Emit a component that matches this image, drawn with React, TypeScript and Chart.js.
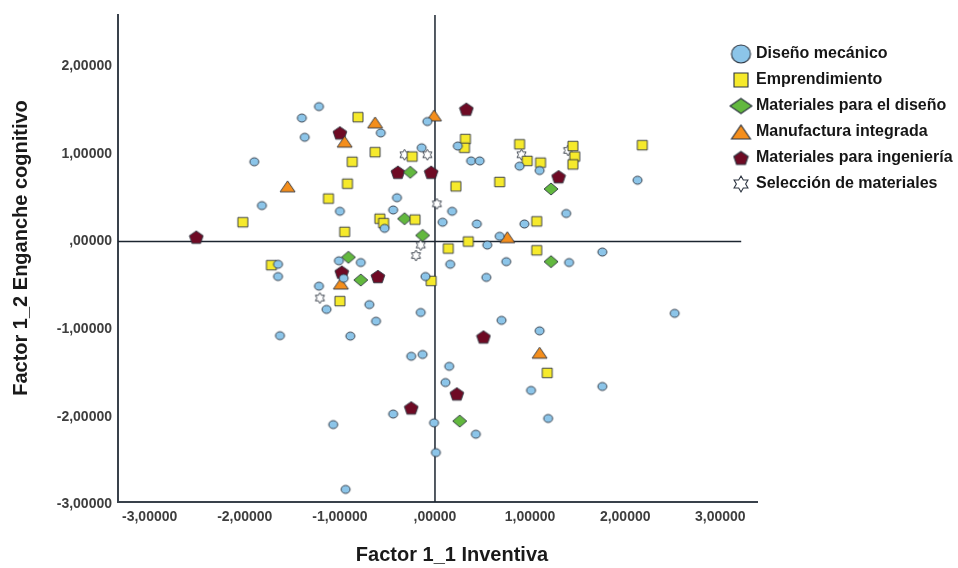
import React, { useEffect, useRef } from 'react';
import { Chart, registerables } from 'chart.js';

Chart.register(...registerables);

// ---------- data ----------
const seriesNames = [
  'Diseño mecánico',
  'Emprendimiento',
  'Materiales para el diseño',
  'Manufactura integrada',
  'Materiales para ingeniería',
  'Selección de materiales',
];

const disenoMecanico: number[][] = [
  [-1.22, 1.54], [-1.40, 1.41], [-0.08, 1.37], [-1.37, 1.19], [-0.57, 1.24], [-0.14, 1.07],
  [-1.90, 0.91], [-0.40, 0.50], [-1.82, 0.41], [-1.00, 0.345], [-0.44, 0.36], [-0.53, 0.15],
  [0.08, 0.22], [0.24, 1.09], [0.38, 0.92], [0.47, 0.92], [0.89, 0.86], [1.10, 0.81],
  [2.13, 0.70], [0.18, 0.345], [0.44, 0.20], [0.94, 0.20], [1.38, 0.32], [0.68, 0.06],
  [0.55, -0.04], [1.76, -0.12], [0.16, -0.26], [0.75, -0.23], [1.41, -0.24], [0.54, -0.41],
  [2.52, -0.82], [0.70, -0.90], [1.10, -1.02], [0.15, -1.425], [0.11, -1.61], [1.01, -1.70],
  [1.76, -1.655], [-0.01, -2.07], [1.19, -2.02], [0.43, -2.20], [0.01, -2.41], [-1.65, -0.26],
  [-1.65, -0.40], [-1.01, -0.22], [-0.78, -0.24], [-0.96, -0.42], [-1.22, -0.51], [-1.14, -0.775],
  [-0.69, -0.72], [-0.62, -0.91], [-0.10, -0.40], [-0.15, -0.81], [-1.63, -1.075], [-0.89, -1.08],
  [-0.25, -1.31], [-0.13, -1.29], [-0.44, -1.97], [-1.07, -2.09], [-0.94, -2.83],
];

const emprendimiento: number[][] = [
  [-0.81, 1.42], [-0.63, 1.02], [-0.24, 0.97], [-0.87, 0.91], [-0.92, 0.66], [-1.12, 0.49],
  [-0.58, 0.26], [-0.54, 0.21], [-0.21, 0.25], [-2.02, 0.22], [-0.95, 0.11], [0.32, 1.17],
  [0.31, 1.07], [0.89, 1.11], [0.97, 0.92], [1.11, 0.90], [1.45, 1.09], [1.47, 0.97],
  [1.45, 0.88], [2.18, 1.10], [0.22, 0.63], [0.68, 0.68], [1.07, 0.23], [0.35, 0.00],
  [0.14, -0.08], [1.07, -0.10], [-0.04, -0.45], [1.18, -1.50], [-1.72, -0.27], [-1.00, -0.68],
];

const materialesDiseno: number[][] = [
  [-0.26, 0.79], [-0.32, 0.26], [-0.13, 0.07], [1.22, 0.60], [1.22, -0.23], [0.26, -2.05],
  [-0.91, -0.18], [-0.78, -0.44],
];

const manufacturaIntegrada: number[][] = [
  [-0.63, 1.36], [-0.01, 1.44], [-0.95, 1.14], [-1.55, 0.63], [0.76, 0.05], [1.10, -1.27],
  [-0.99, -0.48],
];

const materialesIngenieria: number[][] = [
  [-1.00, 1.24], [-0.39, 0.79], [-0.04, 0.79], [-2.51, 0.05], [0.33, 1.51], [1.30, 0.74],
  [-0.98, -0.35], [-0.60, -0.40], [0.51, -1.09], [0.23, -1.74], [-0.25, -1.90],
];

const seleccionMateriales: number[][] = [
  [-0.32, 0.99], [-0.08, 0.99], [0.02, 0.43], [-0.15, -0.04], [0.91, 0.99], [1.40, 1.04],
  [-0.20, -0.16], [-1.21, -0.645],
];

const seriesData = [
  disenoMecanico, emprendimiento, materialesDiseno,
  manufacturaIntegrada, materialesIngenieria, seleccionMateriales,
];

const xTickValues = [-3, -2, -1, 0, 1, 2, 3];
const xTickLabels = ['-3,00000', '-2,00000', '-1,00000', ',00000', '1,00000', '2,00000', '3,00000'];
const yTickValues = [-3, -2, -1, 0, 1, 2];
const yTickLabels = ['-3,00000', '-2,00000', '-1,00000', ',00000', '1,00000', '2,00000'];

const xTitle = 'Factor 1_1 Inventiva';
const yTitle = 'Factor 1_2 Enganche cognitivo';

// ---------- styles ----------
const FONT = '"Liberation Sans", Arial, Helvetica, sans-serif';
const OUTLINE = '#2c3440';
const markerDefs = [
  { shape: 'circle', fill: '#8cc5e9', w: 9, h: 8, lw: 0.9, lgW: 19, lgH: 18 },
  { shape: 'square', fill: '#f6ea2c', w: 10, h: 9.5, lw: 0.9, lgW: 14, lgH: 14 },
  { shape: 'diamond', fill: '#62b83e', w: 14, h: 12, lw: 0.9, lgW: 22, lgH: 15 },
  { shape: 'triangle', fill: '#f48e1c', w: 15, h: 11, lw: 0.9, lgW: 19, lgH: 14 },
  { shape: 'pentagon', fill: '#6e0a24', w: 12, h: 12.5, lw: 0.9, lgW: 13, lgH: 13 },
  { shape: 'star', fill: '#ffffff', w: 10.5, h: 11, lw: 0.9, lgW: 16, lgH: 16 },
];

function makeMarker(shape: string, w: number, h: number, fill: string, lw: number): HTMLCanvasElement {
  const pad = 2;
  const c = document.createElement('canvas');
  c.width = Math.ceil(w + pad * 2);
  c.height = Math.ceil(h + pad * 2);
  const ctx = c.getContext('2d') as CanvasRenderingContext2D;
  const cx = c.width / 2;
  const cy = c.height / 2;
  ctx.beginPath();
  if (shape === 'circle') {
    ctx.ellipse(cx, cy, w / 2, h / 2, 0, 0, Math.PI * 2);
  } else if (shape === 'square') {
    ctx.rect(cx - w / 2, cy - h / 2, w, h);
  } else if (shape === 'diamond') {
    ctx.moveTo(cx, cy - h / 2);
    ctx.lineTo(cx + w / 2, cy);
    ctx.lineTo(cx, cy + h / 2);
    ctx.lineTo(cx - w / 2, cy);
    ctx.closePath();
  } else if (shape === 'triangle') {
    ctx.moveTo(cx, cy - h / 2);
    ctx.lineTo(cx + w / 2, cy + h / 2);
    ctx.lineTo(cx - w / 2, cy + h / 2);
    ctx.closePath();
  } else if (shape === 'pentagon') {
    const r = h / 1.809;
    const oy = cy - h / 2 + r;
    for (let i = 0; i < 5; i++) {
      const a = -Math.PI / 2 + (i * 2 * Math.PI) / 5;
      const px = cx + r * 1.05 * Math.cos(a);
      const py = oy + r * Math.sin(a);
      if (i === 0) ctx.moveTo(px, py); else ctx.lineTo(px, py);
    }
    ctx.closePath();
  } else if (shape === 'star') {
    const R = h / 2;
    const rIn = R * 0.58;
    for (let i = 0; i < 12; i++) {
      const a = -Math.PI / 2 + (i * Math.PI) / 6;
      const rr = i % 2 === 0 ? R : rIn;
      const px = cx + rr * Math.cos(a) * (w / h);
      const py = cy + rr * Math.sin(a);
      if (i === 0) ctx.moveTo(px, py); else ctx.lineTo(px, py);
    }
    ctx.closePath();
  }
  ctx.fillStyle = fill;
  ctx.fill();
  ctx.lineWidth = lw;
  ctx.strokeStyle = OUTLINE;
  ctx.lineJoin = 'miter';
  ctx.stroke();
  return c;
}

export default function App() {
  const canvasRef = useRef<HTMLCanvasElement | null>(null);

  useEffect(() => {
    const canvas = canvasRef.current;
    if (!canvas) return;

    const plotMarkers = markerDefs.map((m) => makeMarker(m.shape, m.w, m.h, m.fill, m.lw));
    const legendMarkers = markerDefs.map((m) => makeMarker(m.shape, m.lgW, m.lgH, m.fill, 1.1));

    const refLines = {
      id: 'refLines',
      beforeDatasetsDraw(chart: any) {
        const { ctx, chartArea, scales } = chart;
        const x0 = scales.x.getPixelForValue(0);
        const y0 = scales.y.getPixelForValue(0);
        ctx.save();
        ctx.strokeStyle = '#1c2530';
        ctx.lineWidth = 1.5;
        ctx.beginPath();
        ctx.moveTo(x0, chartArea.top);
        ctx.lineTo(x0, chartArea.bottom);
        ctx.moveTo(chartArea.left, y0);
        ctx.lineTo(scales.x.getPixelForValue(3.22), y0);
        ctx.stroke();
        ctx.restore();
      },
    };

    const overlay = {
      id: 'overlay',
      afterDraw(chart: any) {
        const { ctx } = chart;
        ctx.save();
        // legend
        ctx.font = `bold 16px ${FONT}`;
        ctx.fillStyle = '#161616';
        ctx.textBaseline = 'middle';
        ctx.textAlign = 'left';
        seriesNames.forEach((name, i) => {
          const cy = 54 + i * 26;
          const img = legendMarkers[i];
          ctx.drawImage(img, 741 - img.width / 2, cy - img.height / 2);
          ctx.fillText(name, 756, cy);
        });
        // axis titles
        ctx.font = `bold 20px ${FONT}`;
        ctx.fillStyle = '#1a1a1a';
        ctx.textAlign = 'center';
        ctx.fillText(xTitle, 452, 555);
        ctx.translate(21, 248);
        ctx.rotate(-Math.PI / 2);
        ctx.fillText(yTitle, 0, 0);
        ctx.restore();
      },
    };

    const chart = new Chart(canvas, {
      type: 'scatter',
      data: {
        datasets: seriesNames.map((name, i) => ({
          label: name,
          data: seriesData[i].map(([x, y]) => ({ x, y })),
          pointStyle: plotMarkers[i] as any,
          pointRadius: 5,
          pointHoverRadius: 5,
          showLine: false,
        })),
      },
      options: {
        animation: false,
        responsive: false,
        events: [],
        layout: { padding: { left: 0, top: 15, right: 201, bottom: 0 } },
        plugins: {
          legend: { display: false },
          tooltip: { enabled: false },
          title: { display: false },
        },
        scales: {
          x: {
            type: 'linear',
            position: 'bottom',
            min: -3.333,
            max: 3.386,
            afterFit: (scale: any) => { scale.height = 66; },
            afterBuildTicks: (scale: any) => { scale.ticks = xTickValues.map((v) => ({ value: v })); },
            grid: { display: false, drawTicks: false },
            border: { display: true, color: '#39414b', width: 2 },
            ticks: {
              autoSkip: false,
              maxRotation: 0,
              padding: 7,
              color: '#3e3e3e',
              font: { family: FONT, size: 14, weight: 'bold' },
              callback: (_v: any, idx: number) => xTickLabels[idx],
            },
          },
          y: {
            type: 'linear',
            position: 'left',
            min: -2.974,
            max: 2.586,
            afterFit: (scale: any) => { scale.width = 118; },
            afterBuildTicks: (scale: any) => { scale.ticks = yTickValues.map((v) => ({ value: v })); },
            grid: { display: false, drawTicks: false },
            border: { display: true, color: '#39414b', width: 2 },
            ticks: {
              autoSkip: false,
              padding: 6,
              color: '#3e3e3e',
              font: { family: FONT, size: 14, weight: 'bold' },
              callback: (_v: any, idx: number) => yTickLabels[idx],
            },
          },
        },
      },
      plugins: [refLines, overlay],
    } as any);

    return () => chart.destroy();
  }, []);

  return (
    <div style={{ position: 'fixed', left: 0, top: 0, width: 958, height: 568, background: '#ffffff' }}>
      <canvas ref={canvasRef} width={958} height={568} style={{ display: 'block' }} />
    </div>
  );
}
